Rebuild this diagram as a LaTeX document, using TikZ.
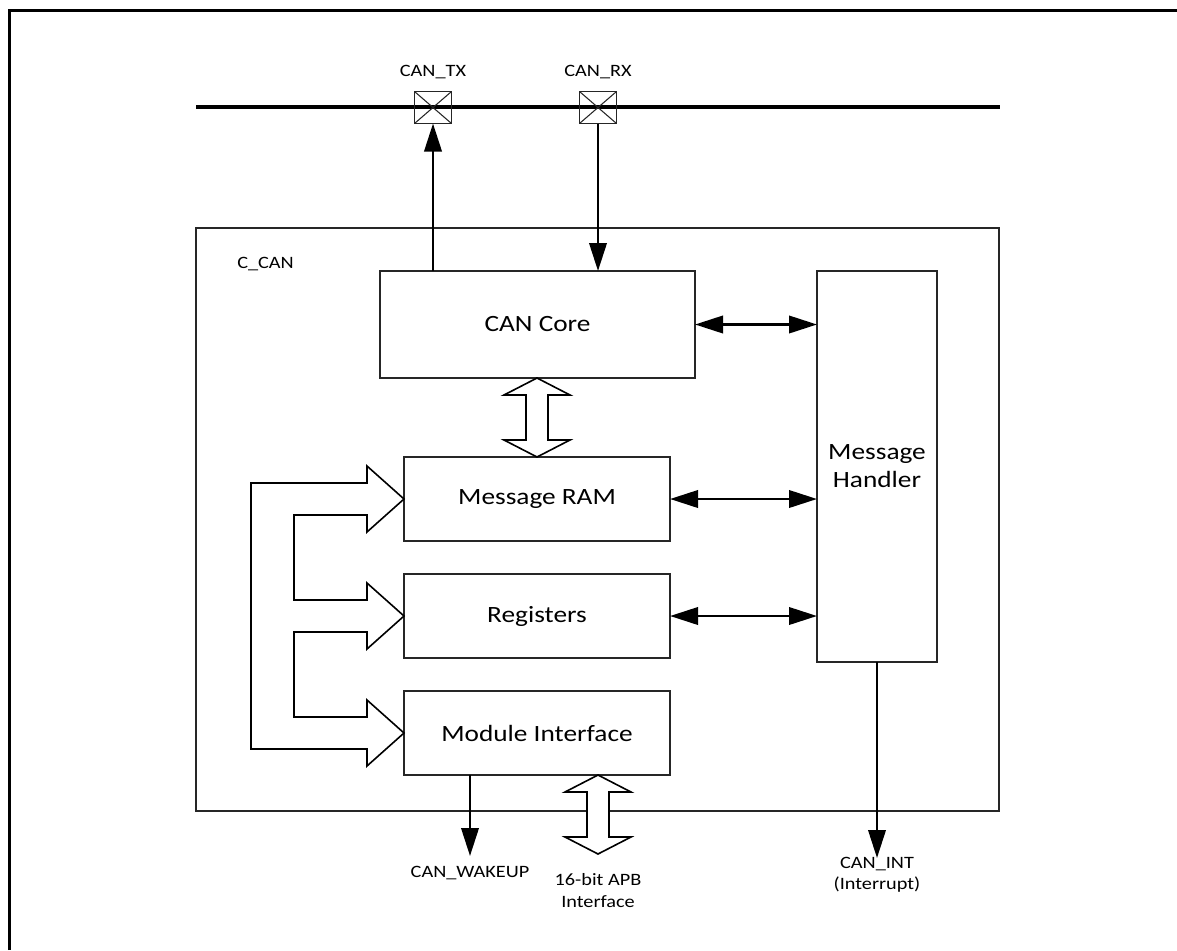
\documentclass[tikz,border=0pt]{standalone}
\usepackage{fontspec}
\setmainfont{Carlito}[FakeStretch=1.17]
\usetikzlibrary{arrows.meta,calc}
\begin{document}
\begin{tikzpicture}[x=0.75pt,y=-0.75pt,
  blk/.style={draw=black!85,line width=0.8pt,inner sep=0pt,outer sep=0pt,rectangle,font=\fontsize{17.5}{21}\selectfont,align=center},
  pin/.style={draw=black!85,line width=0.8pt,inner sep=0pt,outer sep=0pt,rectangle,minimum width=27.75pt,minimum height=24pt},
  lbl/.style={font=\fontsize{13}{15.5}\selectfont,inner sep=0pt,align=center},
  conn/.style={line width=2pt,-{Triangle[length=21pt,width=13pt]}},
  dconn/.style={line width=2pt,{Triangle[length=21pt,width=13pt]}-{Triangle[length=21pt,width=13pt]}},
  hollow/.style={draw=black,line width=1.2pt,fill=white,line join=miter},
  bus/.style={line width=2.3pt}]
\useasboundingbox (0,0) rectangle (1177,950);
% frame
\draw[line width=2.25pt] (9,950) -- (9,10) -- (1177,10);
% bus
\coordinate (busL) at (196,107);
\coordinate (busR) at (1000,107);
\draw[bus] (busL) -- (busR);
% pins
\node[pin] (tx) at (433,107.5) {};
\node[pin] (rx) at (598,107.5) {};
\draw[line width=0.8pt,black!85] (tx.north west) -- (tx.south east) (tx.south west) -- (tx.north east);
\draw[line width=0.8pt,black!85] (rx.north west) -- (rx.south east) (rx.south west) -- (rx.north east);
\node[lbl] (txl) at (433,72) {CAN\_TX};
\node[lbl] (rxl) at (598,72) {CAN\_RX};
% C_CAN box
\node[blk,minimum width=602.25pt,minimum height=437.25pt] (ccan) at (597.5,519.5) {};
\node[lbl,anchor=west] (ccanl) at (237,264) {C\_CAN};
% blocks
\node[blk,minimum width=236.25pt,minimum height=80.25pt] (core) at (537.5,324.5) {CAN Core};
\node[blk,minimum width=90pt,minimum height=293.25pt] (mh) at (877,466.5) {Message\\Handler};
\node[blk,minimum width=199.5pt,minimum height=63pt] (ram) at (537,499) {Message RAM};
\node[blk,minimum width=199.5pt,minimum height=63pt] (reg) at (537,616) {Registers};
\node[blk,minimum width=199.5pt,minimum height=63pt] (mi) at (537,733) {Module Interface};
% TX / RX
\draw[conn] (core.north -| tx.south) -- (tx.south);
\draw[conn] (rx.south) -- (rx.south |- core.north);
% handler links
\draw[dconn] (core.east) -- (mh.west |- core.east);
\draw[dconn] (ram.east) -- (mh.west |- ram.east);
\draw[dconn] (reg.east) -- (mh.west |- reg.east);
% core <-> ram hollow arrow
\draw[hollow] ($(core.south)+(-0.5,0)$) -- ++(33,17) -- ++(-22,0) -- ++(0,45) -- ++(22,0) -- (ram.north) -- ++(-33,-17) -- ++(22,0) -- ++(0,-45) -- ++(-22,0) -- cycle;
% left bus hollow arrows
\draw[hollow] (ram.west) -- ++(-37,33) -- ++(0,-17) -- ++(-73,0) -- ++(0,85) -- ++(73,0) -- ++(0,-17)
  -- (reg.west) -- ++(-37,33) -- ++(0,-17) -- ++(-73,0) -- ++(0,85) -- ++(73,0) -- ++(0,-17)
  -- (mi.west) -- ++(-37,33) -- ++(0,-17) -- ++(-116,0) -- ++(0,-266) -- ++(116,0) -- ++(0,-17) -- cycle;
% APB hollow arrow
\coordinate (apbtop) at ($(mi.south)+(61,0)$);
\draw[hollow] (apbtop) -- ++(33,17) -- ++(-22,0) -- ++(0,45) -- ++(22,0) -- ++(-33,17) -- ++(-33,-17) -- ++(22,0) -- ++(0,-45) -- ++(-22,0) -- cycle;
\node[lbl] (apbl) at (598,891) {16-bit APB\\[1pt]Interface};
% wakeup
\coordinate (wk) at (470,856);
\draw[conn] (mi.south -| wk) -- (wk);
\node[lbl] (wkl) at (470,873) {CAN\_WAKEUP};
% interrupt
\coordinate (int) at (877,858);
\draw[conn] (mh.south) -- (int);
\node[lbl] (intl) at (877,875) {CAN\_INT\\(Interrupt)};
\end{tikzpicture}
\end{document}
